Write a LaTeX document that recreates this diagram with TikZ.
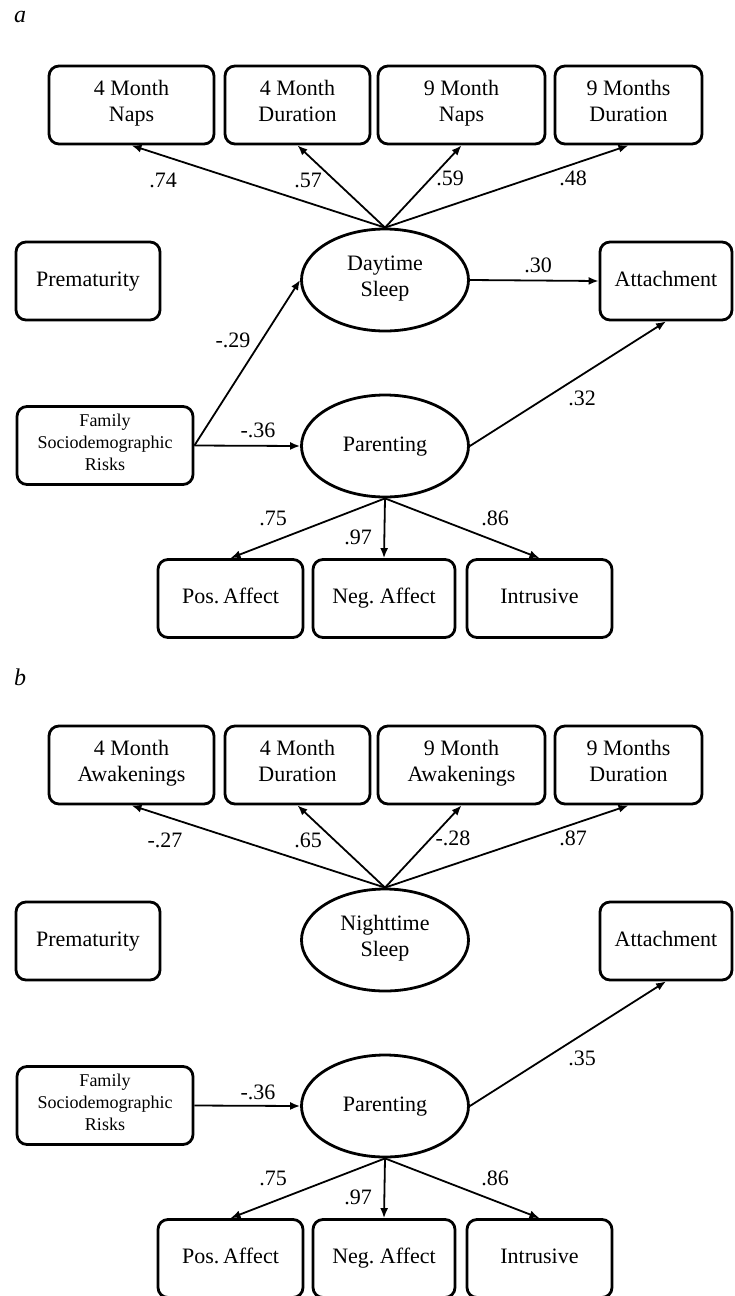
\documentclass[tikz,border=0pt]{standalone}
\usepackage{fontspec}
\setmainfont{Liberation Serif}
\usetikzlibrary{shapes,arrows.meta,positioning}

\tikzset{
    obs/.style={draw, rounded corners=5pt, line width=1.4pt, align=center,
        minimum width=#1, minimum height=39pt, inner sep=1pt,
        font=\fontsize{11}{13}\selectfont,
        execute at begin node=\strut, execute at end node=\strut},
    lat/.style={draw, ellipse, line width=1.4pt, align=center,
        minimum width=83.5pt, minimum height=51pt, inner sep=0pt,
        font=\fontsize{11}{13}\selectfont,
        execute at begin node=\strut, execute at end node=\strut},
    arr/.style={-{Latex[length=5pt,width=4pt]}, line width=0.9pt},
    coef/.style={inner sep=0pt, text height=7.5pt, text depth=0pt,
        font=\fontsize{11}{13}\selectfont},
    panel/.style={inner sep=0pt, font=\fontsize{12}{14}\selectfont\itshape}
}

\begin{document}
\begin{tikzpicture}[x=0.5pt,y=-0.5pt]
    \useasboundingbox (0,0) rectangle (734,1296);

    % (a) Daytime sleep
    \node[panel] (taga) at (20,17) {a};
    \node[obs=82.5pt] (naps4a) at (131.5,105) {4 Month\\Naps};
    \node[obs=72.5pt] (dur4a) at (297.5,105) {4 Month\\Duration};
    \node[obs=83.5pt] (naps9a) at (461.5,105) {9 Month\\Naps};
    \node[obs=73.5pt] (dur9a) at (628.5,105) {9 Months\\Duration};
    \node[obs=72pt] (prema) at (88,281) {Prematurity};
    \node[lat] (sleepa) at (385,280) {Daytime\\Sleep};
    \node[obs=66pt] (atta) at (666,281) {Attachment};
    \node[obs=88pt, font=\fontsize{9}{11}\selectfont] (fama) at (105,445.5) {Family\\Sociodemographic\\Risks};
    \node[lat] (para) at (385,446) {Parenting};
    \node[obs=72.5pt] (posa) at (230.5,598.5) {Pos.\,Affect};
    \node[obs=71pt] (nega) at (384,598.5) {Neg.\ Affect};
    \node[obs=72.5pt] (intra) at (539.5,598.5) {Intrusive};

    \foreach \target in {naps4a, dur4a, naps9a, dur9a}
        \draw[arr] (sleepa.north) -- (\target.south);
    \draw[arr] (sleepa.east) -- (atta.west);
    \draw[arr] (fama.east) -- (sleepa.west);
    \draw[arr] (fama.east) -- (para.west);
    \draw[arr] (para.east) -- (atta.south);
    \foreach \target in {posa, nega, intra}
        \draw[arr] (para.south) -- (\target.north);

    \foreach \name/\x/\y/\val in {c1a/163/180/.74, c2a/308/180/.57, c3a/450/178/.59,
        c4a/573/178/.48, c5a/538/265/.30, c6a/233/340/-.29, c7a/258/430/-.36,
        c8a/582/398/.32, c9a/273/518/.75, c10a/358/537/.97, c11a/495/518/.86}
        \node[coef] (\name) at (\x,\y) {\val};

    % (b) Nighttime sleep
    \node[panel] (tagb) at (20,677) {b};
    \node[obs=82.5pt] (awk4b) at (131.5,765) {4 Month\\Awakenings};
    \node[obs=72.5pt] (dur4b) at (297.5,765) {4 Month\\Duration};
    \node[obs=83.5pt] (awk9b) at (461.5,765) {9 Month\\Awakenings};
    \node[obs=73.5pt] (dur9b) at (628.5,765) {9 Months\\Duration};
    \node[obs=72pt] (premb) at (88,941) {Prematurity};
    \node[lat] (sleepb) at (385,940) {Nighttime\\Sleep};
    \node[obs=66pt] (attb) at (666,941) {Attachment};
    \node[obs=88pt, font=\fontsize{9}{11}\selectfont] (famb) at (105,1105.5) {Family\\Sociodemographic\\Risks};
    \node[lat] (parb) at (385,1106) {Parenting};
    \node[obs=72.5pt] (posb) at (230.5,1258.5) {Pos.\,Affect};
    \node[obs=71pt] (negb) at (384,1258.5) {Neg.\ Affect};
    \node[obs=72.5pt] (intrb) at (539.5,1258.5) {Intrusive};

    \foreach \target in {awk4b, dur4b, awk9b, dur9b}
        \draw[arr] (sleepb.north) -- (\target.south);
    \draw[arr] (famb.east) -- (parb.west);
    \draw[arr] (parb.east) -- (attb.south);
    \foreach \target in {posb, negb, intrb}
        \draw[arr] (parb.south) -- (\target.north);

    \foreach \name/\x/\y/\val in {c1b/165/840/-.27, c2b/308/840/.65, c3b/453/838/-.28,
        c4b/573/838/.87, c5b/258/1092/-.36, c6b/582/1058/.35,
        c7b/273/1178/.75, c8b/358/1197/.97, c9b/495/1178/.86}
        \node[coef] (\name) at (\x,\y) {\val};
\end{tikzpicture}
\end{document}
